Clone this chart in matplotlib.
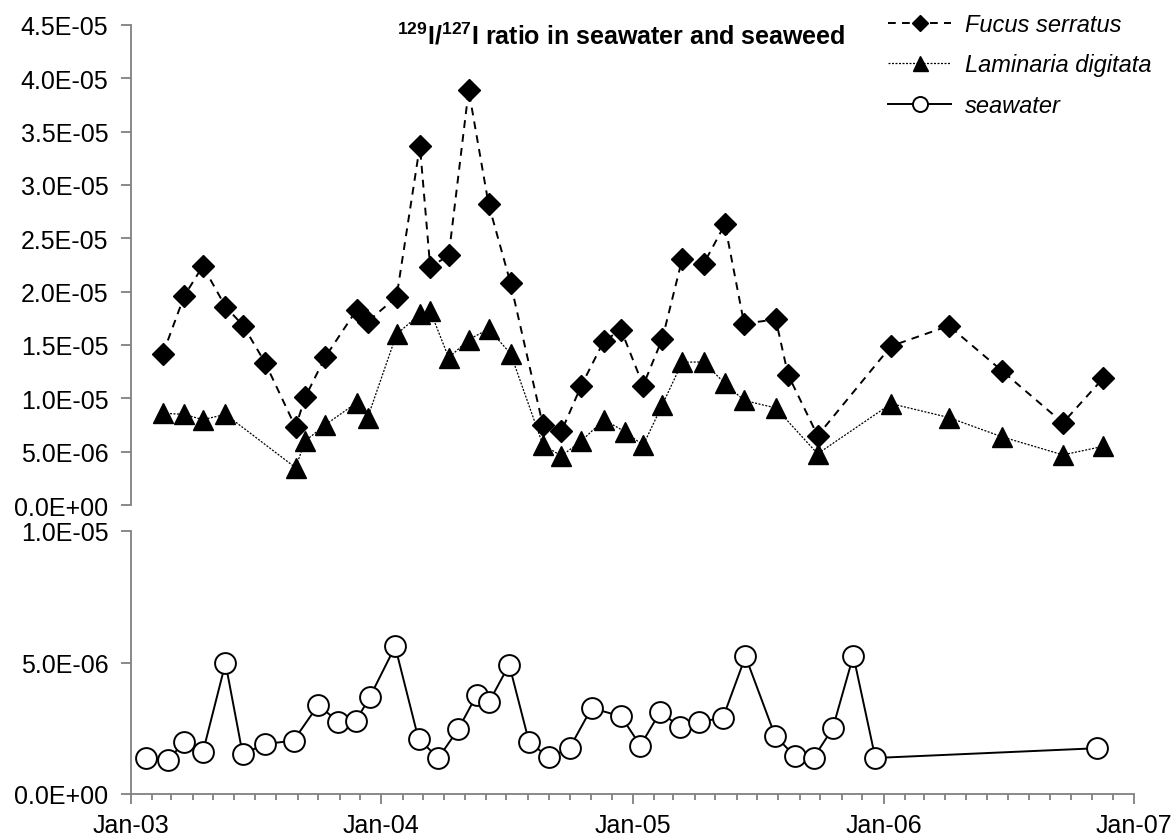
import matplotlib
matplotlib.use("Agg")
import matplotlib.pyplot as plt
import matplotlib.dates as mdates
from matplotlib.ticker import FuncFormatter, MultipleLocator
import pandas as pd

plt.rcParams['font.family'] = ['Liberation Sans', 'DejaVu Sans']
plt.rcParams['mathtext.fontset'] = 'custom'
plt.rcParams['mathtext.rm'] = 'Liberation Sans:bold'
plt.rcParams['mathtext.it'] = 'Liberation Sans:bold'
plt.rcParams['mathtext.bf'] = 'Liberation Sans:bold'

# ---------------- data ----------------
fucus_dates = ["2003-02-17", "2003-03-20", "2003-04-16", "2003-05-19", "2003-06-14",
               "2003-07-16", "2003-08-29", "2003-09-12", "2003-10-11", "2003-11-26",
               "2003-12-12", "2004-01-23", "2004-02-26", "2004-03-12", "2004-04-08",
               "2004-05-07", "2004-06-05", "2004-07-07", "2004-08-23", "2004-09-19",
               "2004-10-18", "2004-11-20", "2004-12-15", "2005-01-16", "2005-02-13",
               "2005-03-14", "2005-04-14", "2005-05-15", "2005-06-12", "2005-07-28",
               "2005-08-15", "2005-09-27", "2006-01-12", "2006-04-06", "2006-06-22",
               "2006-09-19", "2006-11-17"]
fucus_vals = [1.42e-5, 1.96e-5, 2.24e-5, 1.86e-5, 1.68e-5,
              1.33e-5, 7.3e-6, 1.01e-5, 1.385e-5, 1.83e-5,
              1.72e-5, 1.95e-5, 3.37e-5, 2.23e-5, 2.34e-5,
              3.89e-5, 2.82e-5, 2.08e-5, 7.5e-6, 6.9e-6,
              1.12e-5, 1.54e-5, 1.64e-5, 1.12e-5, 1.56e-5,
              2.31e-5, 2.26e-5, 2.63e-5, 1.70e-5, 1.74e-5,
              1.22e-5, 6.5e-6, 1.49e-5, 1.68e-5, 1.26e-5,
              7.7e-6, 1.19e-5]

lam_dates = ["2003-02-17", "2003-03-20", "2003-04-16", "2003-05-19", "2003-08-29",
             "2003-09-12", "2003-10-11", "2003-11-26", "2003-12-12", "2004-01-23",
             "2004-02-26", "2004-03-12", "2004-04-08", "2004-05-07", "2004-06-05",
             "2004-07-07", "2004-08-23", "2004-09-19", "2004-10-18", "2004-11-20",
             "2004-12-21", "2005-01-16", "2005-02-13", "2005-03-14", "2005-04-14",
             "2005-05-15", "2005-06-12", "2005-07-28", "2005-09-27", "2006-01-12",
             "2006-04-06", "2006-06-22", "2006-09-19", "2006-11-17"]
lam_vals = [8.6e-6, 8.5e-6, 8.0e-6, 8.5e-6, 3.5e-6,
            6.0e-6, 7.5e-6, 9.6e-6, 8.2e-6, 1.6e-5,
            1.79e-5, 1.82e-5, 1.38e-5, 1.55e-5, 1.65e-5,
            1.42e-5, 5.65e-6, 4.6e-6, 6.0e-6, 8.0e-6,
            6.85e-6, 5.6e-6, 9.4e-6, 1.34e-5, 1.34e-5,
            1.14e-5, 9.8e-6, 9.1e-6, 4.8e-6, 9.5e-6,
            8.2e-6, 6.4e-6, 4.7e-6, 5.5e-6]

sea_dates = ["2003-01-23", "2003-02-25", "2003-03-20", "2003-04-16", "2003-05-19",
             "2003-06-13", "2003-07-16", "2003-08-26", "2003-10-01", "2003-10-30",
             "2003-11-25", "2003-12-15", "2004-01-21", "2004-02-24", "2004-03-24",
             "2004-04-22", "2004-05-19", "2004-06-06", "2004-07-05", "2004-08-03",
             "2004-09-01", "2004-10-01", "2004-11-02", "2004-12-15", "2005-01-12",
             "2005-02-10", "2005-03-11", "2005-04-08", "2005-05-12", "2005-06-14",
             "2005-07-27", "2005-08-25", "2005-09-21", "2005-10-19", "2005-11-18",
             "2005-12-20", "2006-11-07"]
sea_vals = [1.37e-6, 1.30e-6, 1.99e-6, 1.58e-6, 4.98e-6,
            1.52e-6, 1.90e-6, 2.03e-6, 3.38e-6, 2.75e-6,
            2.79e-6, 3.68e-6, 5.61e-6, 2.09e-6, 1.37e-6,
            2.47e-6, 3.78e-6, 3.51e-6, 4.92e-6, 1.97e-6,
            1.39e-6, 1.75e-6, 3.27e-6, 2.95e-6, 1.84e-6,
            3.13e-6, 2.53e-6, 2.75e-6, 2.89e-6, 5.23e-6,
            2.22e-6, 1.43e-6, 1.37e-6, 2.50e-6, 5.26e-6,
            1.37e-6, 1.74e-6]

series_labels = ["Fucus serratus", "Laminaria digitata", "seawater"]
title_text = r"$^{129}$I/$^{127}$I ratio in seawater and seaweed"

# ---------------- figure ----------------
W, H = 1176, 837
fig = plt.figure(figsize=(W / 100, H / 100), dpi=100)
left, right = 130.7 / W, 1134.3 / W
ax1 = fig.add_axes([left, 1 - 506 / H, right - left, (506 - 26) / H])
ax2 = fig.add_axes([left, 1 - 795 / H, right - left, (795 - 532) / H], sharex=ax1)

fd = pd.to_datetime(fucus_dates)
ld = pd.to_datetime(lam_dates)
sd = pd.to_datetime(sea_dates)

l1, = ax1.plot(fd, fucus_vals, color='black', linestyle=(0, (4, 3.2)), lw=1.4,
               marker='D', ms=11, mfc='black', mec='black', label=series_labels[0])
l2, = ax1.plot(ld, lam_vals, color='black', linestyle=(0, (1.6, 1.2)), lw=0.9,
               marker='^', ms=15, mfc='black', mec='black', label=series_labels[1])
l3, = ax2.plot(sd, sea_vals, color='black', linestyle='-', lw=1.4,
               marker='o', ms=15, mfc='white', mec='black', mew=1.4, label=series_labels[2])

fmt = FuncFormatter(lambda v, p: f"{v:.1E}")
spine_col = '#808080'
tick_fs = 18

ax1.set_ylim(0, 4.5e-5)
ax1.yaxis.set_major_locator(MultipleLocator(5e-6))
ax1.yaxis.set_major_formatter(fmt)
ax2.set_ylim(0, 1.0e-5)
ax2.yaxis.set_major_locator(MultipleLocator(5e-6))
ax2.yaxis.set_major_formatter(fmt)

ax2.set_xlim(pd.Timestamp("2003-01-01"), pd.Timestamp("2007-01-01"))
ax2.xaxis.set_major_locator(mdates.YearLocator())
ax2.xaxis.set_minor_locator(mdates.MonthLocator())
ax2.xaxis.set_major_formatter(mdates.DateFormatter('%b-%y'))

for ax in (ax1, ax2):
    for s in ('top', 'right'):
        ax.spines[s].set_visible(False)
    ax.spines['left'].set_color(spine_col)
    ax.spines['left'].set_linewidth(1.3)
    ax.tick_params(axis='y', which='major', direction='out', length=7, width=1.3,
                   color=spine_col, labelsize=tick_fs, pad=9, labelcolor='black')
    ax.patch.set_alpha(0)

ax1.spines['bottom'].set_visible(False)
ax1.tick_params(axis='x', which='both', bottom=False, labelbottom=False)
ax2.spines['bottom'].set_color(spine_col)
ax2.spines['bottom'].set_linewidth(1.3)
ax2.tick_params(axis='x', which='major', direction='out', length=7, width=1.3,
                color=spine_col, labelsize=tick_fs, pad=6.5, labelcolor='black')
ax2.tick_params(axis='x', which='minor', direction='out', length=4.5, width=1.3,
                color=spine_col)

fig.text(621 / W, 1 - 36 / H, title_text, ha='center', va='center',
         fontsize=18, fontweight='bold')

leg = fig.legend(handles=[l1, l2, l3], labels=series_labels, loc='upper left',
                 bbox_to_anchor=(888 / W, 1 - 14 / H), frameon=False,
                 prop={'style': 'italic', 'size': 17}, handlelength=2.67,
                 handletextpad=0.6, labelspacing=0.74, borderpad=0,
                 borderaxespad=0, markerscale=0.72)

fig.savefig("out.png", dpi=100)
